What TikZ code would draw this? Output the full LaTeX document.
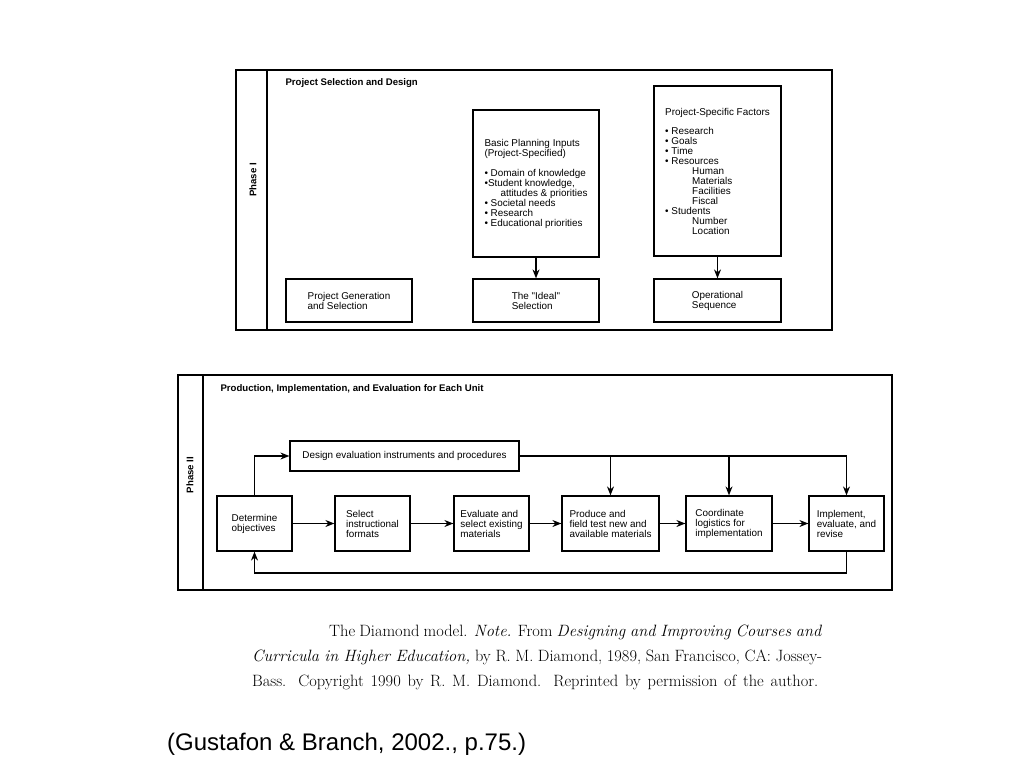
\documentclass[tikz,border=0pt]{standalone}
\usepackage{fontspec}
\newfontfamily\diagfont{Liberation Sans}
\usetikzlibrary{arrows.meta}

\tikzset{
  box/.style={draw, line width=1.2pt, align=left, inner sep=2pt,
    font=\diagfont\fontsize{9.9}{10}\selectfont},
  frame/.style={draw, line width=1.4pt},
  flow/.style={line width=1.2pt, -{Stealth[length=9pt,width=7pt]}},
  heading/.style={font=\diagfont\bfseries\fontsize{9.6}{10}\selectfont}
}

\begin{document}
\begin{tikzpicture}[x=1pt,y=-1pt]
            \useasboundingbox[fill=white] (0,0) rectangle (1023,767);

            \draw[frame] (236,70) rectangle (832,330);
            \draw[frame] (267,70) -- (267,330);
            \node[heading, rotate=90] (phaseI) at (253,180) {Phase I};
            \node[heading, anchor=west] (design) at (282,83) {Project Selection and Design};

            \node[box, minimum width=126, minimum height=147] (inputs) at (536,183.5)
                {Basic Planning Inputs\\(Project-Specified)\\[10pt]
                 • Domain of knowledge\\•Student knowledge,\\\hspace{16pt}attitudes \& priorities\\
                 • Societal needs\\• Research\\• Educational priorities};
            \node[box, minimum width=126, minimum height=43] (ideal) at (536,300.5)
                {The "Ideal"\\Selection};
            \node[box, minimum width=126, minimum height=43] (projgen) at (349,300.5)
                {Project Generation\\and Selection};
            \node[box, minimum width=127, minimum height=170] (factors) at (717.5,171)
                {Project-Specific Factors\\[9pt]
                 • Research\\• Goals\\• Time\\• Resources\\
                 \hspace{27pt}Human\\\hspace{27pt}Materials\\\hspace{27pt}Facilities\\\hspace{27pt}Fiscal\\
                 • Students\\\hspace{27pt}Number\\\hspace{27pt}Location};
            \node[box, minimum width=127, minimum height=43] (operational) at (717.5,300.5)
                {Operational\\Sequence};

            \draw[flow] (inputs) -- (ideal);
            \draw[flow] (factors) -- (operational);

            \draw[frame] (178,375) rectangle (892,590);
            \draw[frame] (203,375) -- (203,590);
            \node[heading, rotate=90] (phaseII) at (190,475) {Phase II};
            \node[heading, anchor=west] (unit) at (217,389) {Production, Implementation, and Evaluation for Each Unit};

            \node[box, minimum width=229, minimum height=30] (instruments) at (404.5,456)
                {Design evaluation instruments and procedures};
            \node[box, minimum width=75, minimum height=55] (objectives) at (254.5,523.5)
                {Determine\\objectives};
            \node[box, minimum width=75, minimum height=55] (formats) at (372.5,523.5)
                {Select\\instructional\\formats};
            \node[box, minimum width=75, minimum height=55] (existing) at (491.5,523.5)
                {Evaluate and\\select existing\\materials};
            \node[box, minimum width=97, minimum height=55] (produce) at (610.5,523.5)
                {Produce and\\field test new and\\available materials};
            \node[box, minimum width=86, minimum height=55] (logistics) at (729,523.5)
                {Coordinate\\logistics for\\implementation};
            \node[box, minimum width=75, minimum height=55] (revise) at (846.5,523.5)
                {Implement,\\evaluate, and\\revise};
            \coordinate (back) at (0,573);

            \draw[flow] (objectives) -- (formats);
            \draw[flow] (formats) -- (existing);
            \draw[flow] (existing) -- (produce);
            \draw[flow] (produce) -- (logistics);
            \draw[flow] (logistics) -- (revise);
            \draw[flow] (objectives) |- (instruments);
            \draw[flow] (instruments) -| (revise);
            \draw[flow] (produce |- instruments.east) -- (produce);
            \draw[flow] (logistics |- instruments.east) -- (logistics);
            \draw[flow] (revise) -- (revise |- back) -| (objectives);

            \node[anchor=base west, inner sep=0pt, font=\fontsize{16.4}{20}\selectfont] (cap1) at (329,636)
                {\hbox to 493pt{The Diamond model. \emph{Note.} From \emph{Designing and Improving Courses and}}};
            \node[anchor=base west, inner sep=0pt, font=\fontsize{16.4}{20}\selectfont] (cap2) at (252,661)
                {\hbox to 570pt{\emph{Curricula in Higher Education,} by R. M. Diamond, 1989, San Francisco, CA: Jossey-}};
            \node[anchor=base west, inner sep=0pt, font=\fontsize{16.4}{20}\selectfont] (cap3) at (252,686)
                {\hbox to 566pt{Bass. Copyright 1990 by R. M. Diamond. Reprinted by permission of the author.}};
            \node[anchor=base west, inner sep=0pt, font=\diagfont\fontsize{24}{28}\selectfont] (source) at (167,750)
                {(Gustafon \& Branch, 2002., p.75.)};
        \end{tikzpicture}
\end{document}
